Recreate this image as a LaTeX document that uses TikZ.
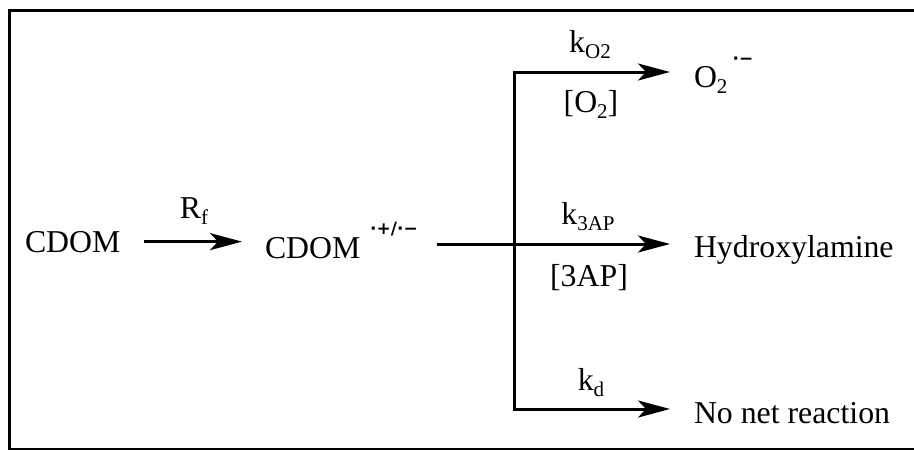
\documentclass[tikz,border=0pt]{standalone}
\usepackage{fontspec}
\setmainfont{Liberation Serif}
\newfontfamily\chgfont{DejaVu Sans}
\usetikzlibrary{arrows.meta}
\newcommand\lsub[1]{\raisebox{-6pt}{\fontsize{21}{21}\selectfont #1}}
\begin{document}
\begin{tikzpicture}[x=1pt,y=-1pt,
  txt/.style={inner sep=0pt, outer sep=0pt, font=\fontsize{31.8}{38}\selectfont},
  chg/.style={inner sep=0pt, outer sep=0pt, font=\fontsize{17}{17}\chgfont\bfseries},
  wire/.style={line width=3pt, line join=miter, line cap=butt},
  arr/.style={wire, -{Stealth[length=32pt,width=17pt,inset=8pt]}}]
\useasboundingbox (0,0) rectangle (914,450);
\draw[line width=3pt] (9.5,10.5) rectangle (920,449);
% species
\node[txt, anchor=base west] (cdom1) at (25,252) {CDOM};
\node[txt, anchor=base] (rf) at (194,218) {R\lsub{f}};
\node[txt, anchor=base west] (cdom2) at (265,258) {CDOM};
\node[chg] (charge) at (394,229) {·+/·−};
\node[txt, anchor=base west] (o2) at (694,87) {O\lsub{2}};
\node[chg] (o2charge) at (743,61) {·−};
\node[txt, anchor=base west] (hyd) at (694,257) {Hydroxylamine};
\node[txt, anchor=base west] (nonet) at (694,423) {No net reaction};
% rate labels
\node[txt, anchor=base] (ko2) at (590,52) {k\lsub{O2}};
\node[txt, anchor=base] (co2) at (591,112) {[O\lsub{2}]};
\node[txt, anchor=base] (k3ap) at (588,224) {k\lsub{3AP}};
\node[txt, anchor=base] (c3ap) at (589,286) {[3AP]};
\node[txt, anchor=base] (kd) at (591,390) {k\lsub{d}};
% junction points
\coordinate (start) at (437,244);
\coordinate (split) at (514,244);
\coordinate (splitT) at (514,72);
\coordinate (splitB) at (514,409);
% connectors
\draw[arr, shorten <=24pt, shorten >=23pt] (cdom1.east) -- (cdom1.east -| cdom2.west);
\draw[arr, shorten >=24pt] (start) -- (hyd.west |- start);
\draw[arr, shorten >=24pt] (split) -- (splitT) -- (o2.west |- splitT);
\draw[arr, shorten >=24pt] (split) -- (splitB) -- (nonet.west |- splitB);
\end{tikzpicture}
\end{document}
